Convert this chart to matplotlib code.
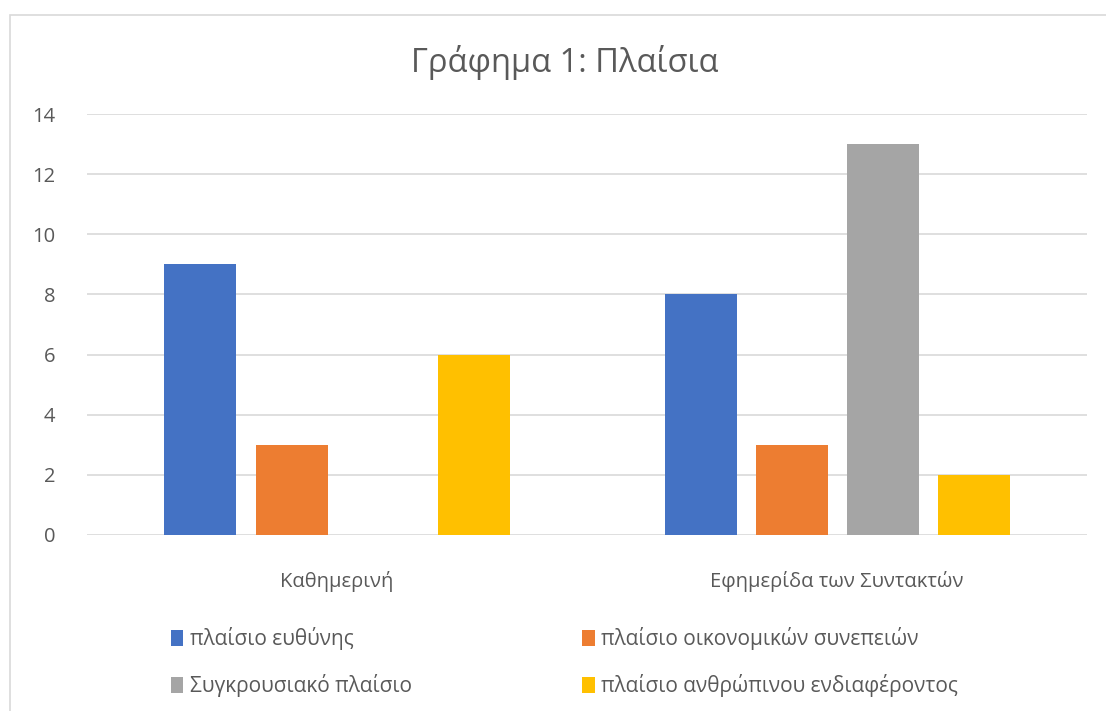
import matplotlib
matplotlib.use("Agg")
import matplotlib.pyplot as plt
from matplotlib.patches import Rectangle, Patch
import numpy as np

plt.rcParams['font.family'] = ['Open Sans', 'DejaVu Sans']

categories = ["Καθημερινή", "Εφημερίδα των Συντακτών"]
series_names = ["πλαίσιο ευθύνης", "πλαίσιο οικονομικών συνεπειών",
                "Συγκρουσιακό πλαίσιο", "πλαίσιο ανθρώπινου ενδιαφέροντος"]
values_responsibility = [9, 8]
values_economic = [3, 3]
values_conflict = [0, 13]
values_human = [6, 2]
colors = ["#4472C4", "#ED7D31", "#A5A5A5", "#FFC000"]
yticks = [0, 2, 4, 6, 8, 10, 12, 14]

W, H = 1106, 711
fig = plt.figure(figsize=(W / 100, H / 100), dpi=100)
fig.patches.append(Rectangle((10 / W, -0.2), 1.2, 1.2 - 15 / H, transform=fig.transFigure,
                             fill=False, edgecolor="#D9D9D9", linewidth=1.2))

ax = fig.add_axes([87 / W, (711 - 535) / H, 1000 / W, (535 - 114) / H])
x = np.arange(len(categories))
series = [values_responsibility, values_economic, values_conflict, values_human]
step = 0.182
width = 0.144
offsets = [-1.5, -0.5, 0.5, 1.5]
handles = []
for s, off, c, name in zip(series, offsets, colors, series_names):
    vals = [v if v > 0 else np.nan for v in s]
    ax.bar(x + off * step, vals, width=width, color=c, zorder=3)
    handles.append(Patch(facecolor=c, label=name))

ax.set_xlim(-0.5, 1.5)
ax.set_ylim(0, 14)
ax.set_yticks(yticks)
ax.set_xticks(x)
ax.set_xticklabels(categories)
ax.grid(axis='y', color="#D9D9D9", linewidth=1.2, zorder=0)
for sp in ax.spines.values():
    sp.set_visible(False)
ax.tick_params(axis='both', length=0, labelsize=14.5, colors="#595959")
ax.tick_params(axis='y', pad=23)
ax.tick_params(axis='x', pad=26)

fig.text(565 / W, 1 - 62 / H, "Γράφημα 1: Πλαίσια", ha='center', va='center',
         fontsize=23.5, color="#595959")

order = [0, 2, 1, 3]
leg = fig.legend(handles=[handles[i] for i in order], ncol=2, loc='center left',
                 bbox_to_anchor=(152 / W, 1 - 662 / H), frameon=False,
                 fontsize=15, labelcolor="#595959", handlelength=0.6,
                 handleheight=0.8, handletextpad=0.3, columnspacing=8.2,
                 labelspacing=1.15)

fig.savefig("out.png", dpi=100)
